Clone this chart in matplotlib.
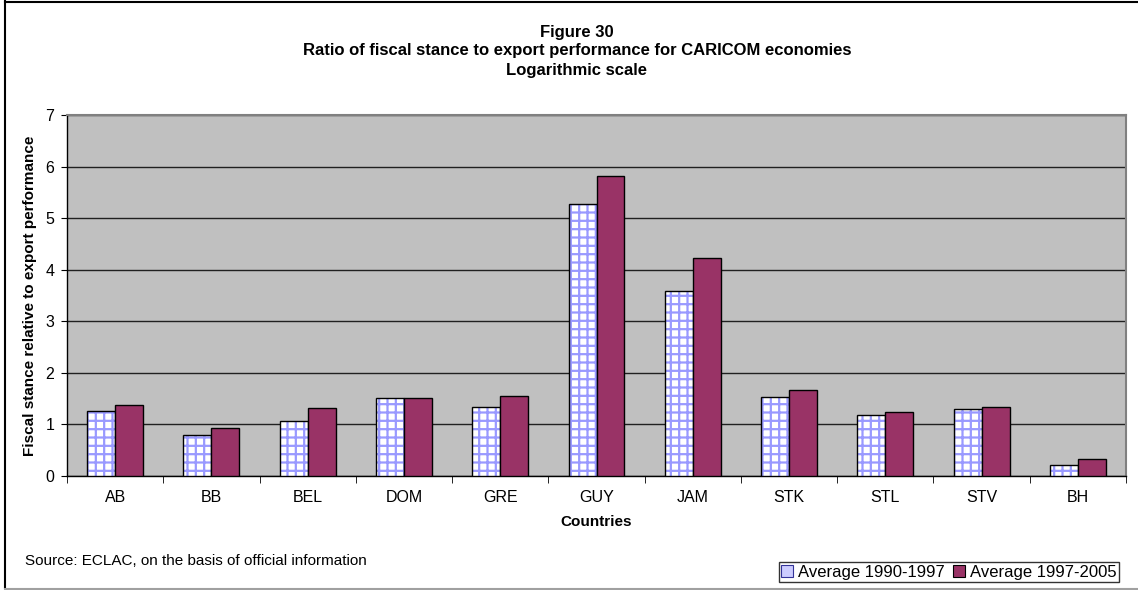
import matplotlib.pyplot as plt
import numpy as np
from matplotlib.lines import Line2D
from matplotlib.patches import Patch

# ======================================================
# DATA
# ======================================================
COUNTRIES = ["AB", "BB", "BEL", "DOM", "GRE", "GUY", "JAM", "STK", "STL", "STV", "BH"]
AVG_1990_1997 = [1.26, 0.80, 1.07, 1.51, 1.34, 5.27, 3.59, 1.53, 1.18, 1.29, 0.21]
AVG_1997_2005 = [1.38, 0.93, 1.32, 1.51, 1.55, 5.81, 4.22, 1.67, 1.24, 1.34, 0.32]
Y_TICKS = [0, 1, 2, 3, 4, 5, 6, 7]

# ======================================================
# SETTINGS
# ======================================================
plt.rcParams["font.family"] = ["Liberation Sans", "DejaVu Sans"]
plt.rcParams["hatch.linewidth"] = 1.6

W, H = 1138, 590
BG = "#C0C0C0"
RED = "#993366"
BLUE_HATCH = "#9999FF"
BAR_W = 0.29

# ======================================================
# FIGURE
# ======================================================
fig = plt.figure(figsize=(W / 100, H / 100), dpi=100)
ax = fig.add_axes([67 / W, 1 - 476 / H, (1126 - 67) / W, (476 - 115) / H])
ax.set_facecolor(BG)

x = np.arange(len(COUNTRIES))

# patterned bars: hatch layer, then black outline
ax.bar(x - BAR_W / 2, AVG_1990_1997, BAR_W, facecolor="white",
       edgecolor=BLUE_HATCH, hatch="++", linewidth=0, zorder=3)
ax.bar(x - BAR_W / 2, AVG_1990_1997, BAR_W, facecolor="none",
       edgecolor="black", linewidth=1.0, zorder=4)
ax.bar(x + BAR_W / 2, AVG_1997_2005, BAR_W, facecolor=RED,
       edgecolor="black", linewidth=1.0, zorder=4)

ax.set_xlim(-0.5, len(COUNTRIES) - 0.5)
ax.set_ylim(0, 7)
ax.set_yticks(Y_TICKS)
ax.yaxis.grid(True, color="#202020", linewidth=1.0, zorder=1)
ax.set_axisbelow(True)

ax.set_xticks(x)
ax.set_xticklabels(COUNTRIES, fontsize=11.5)
ax.set_xticks(np.arange(len(COUNTRIES) + 1) - 0.5, minor=True)
ax.tick_params(axis="x", which="major", length=0, pad=10)
ax.tick_params(axis="x", which="minor", length=5, direction="out", color="black")
ax.tick_params(axis="y", length=4, direction="out", labelsize=11.5, pad=5)

for s in ["left", "bottom"]:
    ax.spines[s].set_color("black")
    ax.spines[s].set_linewidth(1.0)
for s in ["top", "right"]:
    ax.spines[s].set_color("#808080")
    ax.spines[s].set_linewidth(1.5)

ax.set_ylabel("Fiscal stance relative to export performance",
              fontsize=11, fontweight="bold", labelpad=6)
ax.set_xlabel("Countries", fontsize=11, fontweight="bold", labelpad=7)

# ======================================================
# TITLES & NOTES
# ======================================================
for yy, txt in [(32, "Figure 30"),
                (51, "Ratio of fiscal stance to export performance for CARICOM economies"),
                (70, "Logarithmic scale")]:
    fig.text(577 / W, 1 - yy / H, txt, ha="center", va="center",
             fontsize=12, fontweight="bold")

fig.text(25 / W, 1 - 561 / H, "Source: ECLAC, on the basis of official information",
         ha="left", va="center", fontsize=11)

handles = [
    Patch(facecolor="#CCCCFF", edgecolor="#333399", linewidth=0.8),
    Patch(facecolor=RED, edgecolor="black", linewidth=0.8),
]
leg = fig.legend(handles, ["Average 1990-1997", "Average 1997-2005"],
                 loc="lower right", bbox_to_anchor=(1119 / W, 8 / H),
                 ncol=2, fontsize=12, frameon=True, fancybox=False,
                 handlelength=0.7, handleheight=0.7, handletextpad=0.3,
                 columnspacing=0.5, borderpad=0.15, borderaxespad=0)
leg.get_frame().set_edgecolor("black")
leg.get_frame().set_linewidth(1.0)

# chart frame
fig.add_artist(Line2D([5 / W, 5 / W], [2 / H, 1 - 1 / H],
                      color="black", linewidth=1.5))
fig.add_artist(Line2D([5 / W, 1], [1 - 1.5 / H, 1 - 1.5 / H],
                      color="black", linewidth=1.5))
fig.add_artist(Line2D([5 / W, 1], [1.5 / H, 1.5 / H],
                      color="#A0A0A0", linewidth=1.5))

fig.savefig("out.png", dpi=100)
plt.close(fig)
